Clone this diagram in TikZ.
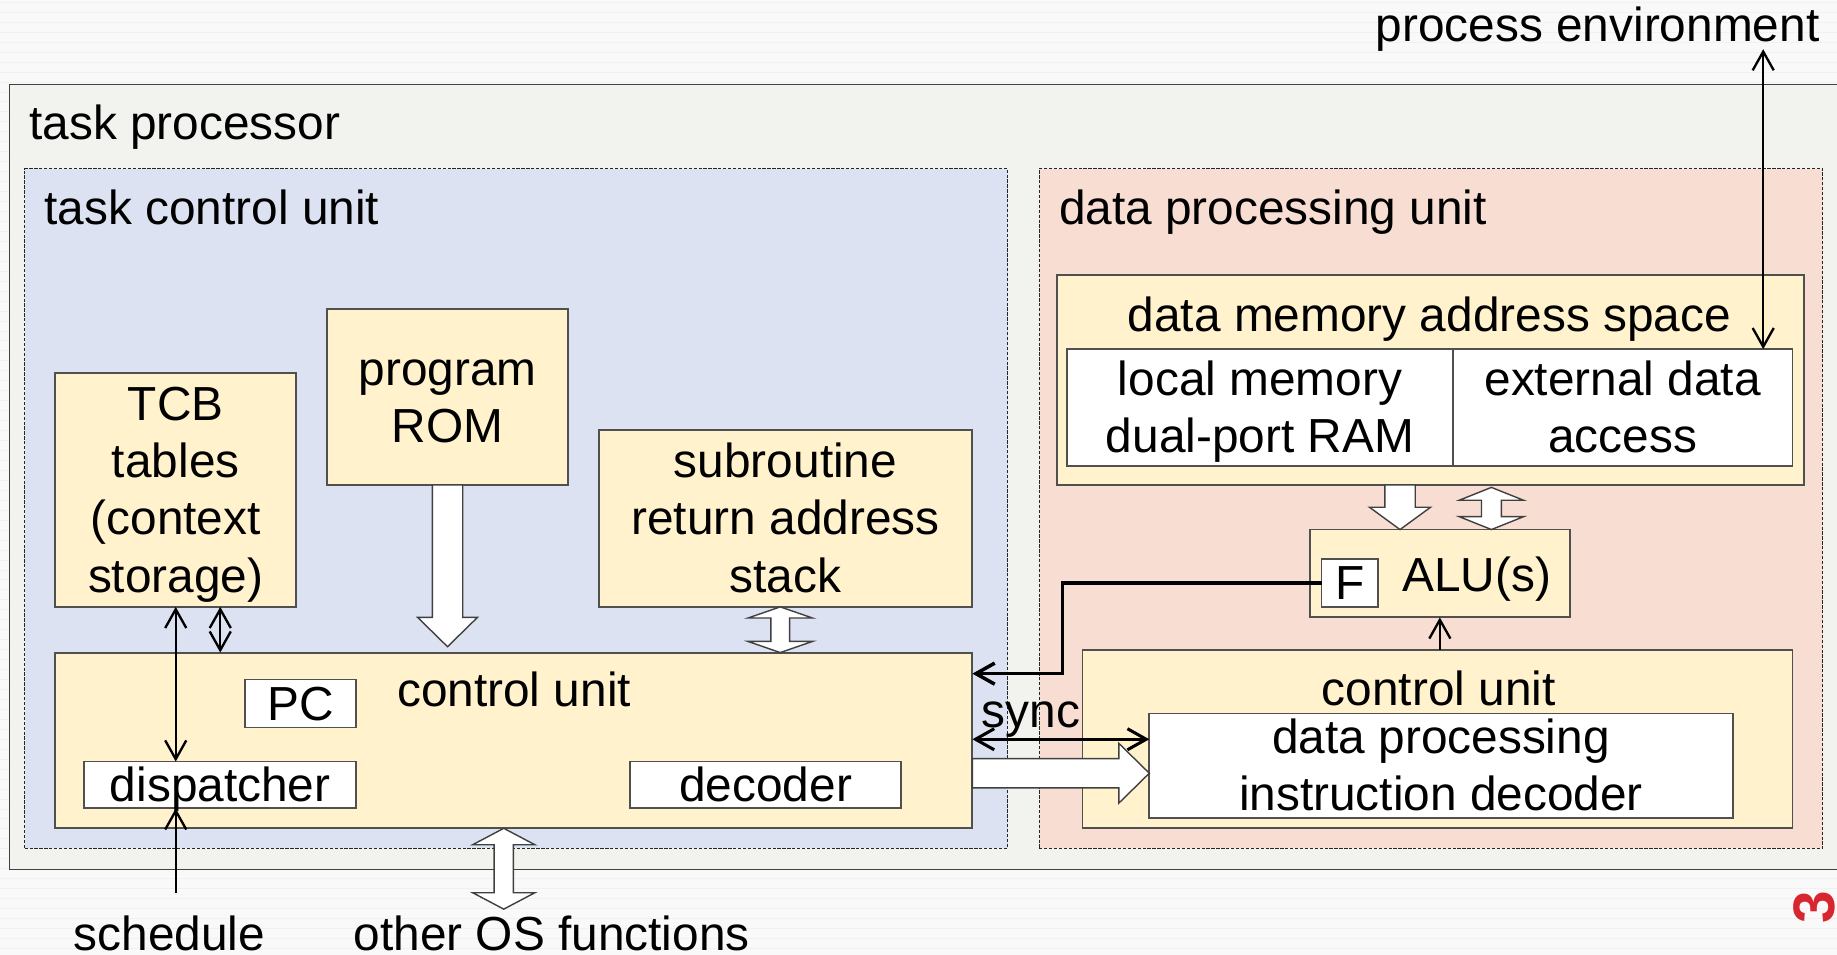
\documentclass[tikz,border=0pt]{standalone}
\usepackage{fontspec}
\setmainfont{Liberation Sans}
\usetikzlibrary{arrows.meta,fit,calc}

\definecolor{pagebg}{HTML}{F9F9F9}
\definecolor{stripe}{HTML}{F1F1F1}
\definecolor{procfill}{HTML}{F2F3EE}
\definecolor{tcufill}{HTML}{DCE2F1}
\definecolor{dpufill}{HTML}{F8DDD3}
\definecolor{unitfill}{HTML}{FFF2CC}
\definecolor{edge}{HTML}{505050}
\definecolor{pagered}{HTML}{D7262F}

% slide text: 20.4pt with a fixed line pitch
\newcommand\pptfont{\fontsize{20.4pt}{24.5pt}\selectfont}
% invisible strut with the font's ascent and descent
\newcommand\lineprop{\rule[-0.212em]{0pt}{1.117em}}

% hollow block arrows, drawn between two points
\newcommand\vsingle[5]{% #1 start, #2 tip below, #3 shaft half width, #4 head half width, #5 head length
  \path[hollow] let \p1=#1, \p2=#2 in
    (\x1-#3,\y1) -- (\x1+#3,\y1) -- (\x1+#3,\y2+#5) -- (\x1+#4,\y2+#5) -- (\x1,\y2)
    -- (\x1-#4,\y2+#5) -- (\x1-#3,\y2+#5) -- cycle;}
\newcommand\vdouble[5]{% #1 upper tip, #2 lower tip
  \path[hollow] let \p1=#1, \p2=#2 in
    (\x1,\y1) -- (\x1+#4,\y1-#5) -- (\x1+#3,\y1-#5) -- (\x1+#3,\y2+#5) -- (\x1+#4,\y2+#5)
    -- (\x1,\y2) -- (\x1-#4,\y2+#5) -- (\x1-#3,\y2+#5) -- (\x1-#3,\y1-#5) -- (\x1-#4,\y1-#5) -- cycle;}
\newcommand\hsingle[5]{% #1 start, #2 tip to the right
  \path[hollow] let \p1=#1, \p2=#2 in
    (\x1,\y1+#3) -- (\x2-#5,\y1+#3) -- (\x2-#5,\y1+#4) -- (\x2,\y1) -- (\x2-#5,\y1-#4)
    -- (\x2-#5,\y1-#3) -- (\x1,\y1-#3) -- cycle;}

\tikzset{
  barb/.tip={Straight Barb[length=8pt,width=9pt]},
  region/.style={draw=black!85, line width=0.45pt, dash pattern=on 1.4pt off 0.7pt},
  unit/.style={draw=edge, line width=0.8pt, fill=unitfill},
  cell/.style={draw=edge, line width=0.8pt, fill=white},
  lines/.style={align=center},
  oneline/.style={text height=15pt, text depth=0.9pt},
  link/.style={draw=black, line width=1pt, arrows={barb-barb}},
  single/.style={draw=black, line width=1pt, arrows={-barb}},
  hollow/.style={draw=black!75, line width=0.6pt, fill=white, line join=miter},
}

\begin{document}
\begin{tikzpicture}[x=0.5pt, y=-0.5pt,
  every node/.style={inner sep=0pt, outer sep=0pt, font=\pptfont}]
\useasboundingbox (0,0) rectangle (1568,815);
\clip (0,0) rectangle (1568,815);

% slide background
\fill[pagebg] (0,0) rectangle (1568,815);
\foreach \yy in {2,10.5,...,815} \draw[stripe, line width=0.4pt] (0,\yy) -- (1568,\yy);

% task processor frame
\node[fit={(8,72) (1590,742)}, draw=black!75, line width=0.65pt, fill=procfill] (proc) {};
\node[anchor=base west] (procT) at (25,119) {task processor};

% the two units
\node[region, fill=tcufill, fit={(21,144) (860,724)}] (tcu) {};
\node[anchor=base west] (tcuT) at (38,192) {task control unit};
\node[region, fill=dpufill, fit={(887,144) (1556,724)}] (dpu) {};
\node[anchor=base west] (dpuT) at (904,192) {data processing unit};

% task control unit contents
\node[unit, fit={(47,318) (253,518)}] (tcb) {};
\node[lines] (tcbT) at (tcb.center) {\lineprop TCB\\tables\\(context\\storage)\lineprop};
\node[unit, fit={(279,264) (485,414)}] (rom) {};
\node[lines] (romT) at (rom.center) {\lineprop program\\ROM\lineprop};
\node[unit, fit={(511,367) (830,518)}] (sub) {};
\node[lines] (subT) at (sub.center) {\lineprop subroutine\\return address\\stack\lineprop};
\node[unit, fit={(47,557) (830,707)}] (cuL) {};
\node[anchor=base west] (cuLT) at (339,603) {control unit};
\node[cell, fit={(209,580) (304,621)}] (pc) {};
\node[oneline] (pcT) at (pc.center) {PC};
\node[cell, fit={(72,650) (304,690)}] (disp) {};
\node[oneline] (dispT) at (disp.center) {dispatcher};
\node[cell, fit={(538,650) (769,690)}] (dec) {};
\node[oneline] (decT) at (dec.center) {decoder};

% data processing unit contents
\node[unit, fit={(902,235) (1540,414)}] (dmas) {};
\node[anchor=base] (dmasT) at (1220,283) {data memory address space};
\node[cell, fit={(911,298) (1240,398)}] (local) {};
\node[lines] (localT) at (local.center) {\lineprop local memory\\dual-port RAM\lineprop};
\node[cell, fit={(1240,298) (1530,398)}] (ext) {};
\node[lines] (extT) at (ext.center) {\lineprop external data\\access\lineprop};
\node[unit, fit={(1118,452) (1340,527)}] (alu) {};
\node[cell, fit={(1128,477) (1176,518)}] (flag) {};
\node[oneline] (flagT) at (flag.center) {F};
\node[anchor=base west] (aluT) at (1197,505) {ALU(s)};
\node[unit, fit={(924,555) (1530,707)}] (cuR) {};
\node[anchor=base] (cuRT) at (1228,602) {control unit};
\node[cell, fit={(981,609) (1479,698)}] (ipd) {};
\node[lines] (ipdT) at (ipd.center) {\lineprop data processing\\instruction decoder\lineprop};

% outside labels
\node[anchor=base east] (envT) at (1553,35) {process environment};
\node[anchor=base west] (schedT) at (63,811) {schedule};
\node[anchor=base west] (osT) at (302,811) {other OS functions};
\node[anchor=base west] (syncT) at (838,621) {sync};
\node[rotate=90, font=\fontsize{25pt}{25pt}\selectfont\bfseries, text=pagered] (pgno) at (1549,774) {3};

% free ends and bend points
\coordinate (tcbSide) at ([xshift=19pt]tcb.south);
\coordinate (schedIn) at (150,762);
\coordinate (envIn) at (1505,42);
\coordinate (syncY) at (900,631);
\coordinate (fRet) at (907,575);
\coordinate (romTip) at (382,552);
\coordinate (subLink) at (666,518);
\coordinate (osOut) at (430,776);
\coordinate (memIn) at (1195,452);
\coordinate (memLink) at (1273,416);
\coordinate (decTip) at (981,660);

% block arrows
\vsingle{(rom.south)}{(romTip)}{6.5pt}{12.75pt}{12.5pt}
\vdouble{(subLink)}{(subLink |- cuL.north)}{4pt}{13.75pt}{4.75pt}
\vdouble{(osOut |- cuL.south)}{(osOut)}{4.1pt}{13.25pt}{7pt}
\vsingle{(memIn |- dmas.south)}{(memIn |- alu.north)}{6.5pt}{13pt}{9.5pt}
\vdouble{(memLink)}{(memLink |- alu.north)}{4.25pt}{13.75pt}{5.5pt}
\hsingle{(cuL.east |- decTip)}{(decTip)}{6.25pt}{12.75pt}{13pt}

% line connectors
\draw[link] (tcb.south) -- (tcb.south |- disp.north);
\draw[link] (tcbSide) -- (tcbSide |- cuL.north);
\draw[single] (schedIn) -- (schedIn |- disp.south);
\draw[link] (envIn) -- (envIn |- ext.north);
\draw[link, line width=1.3pt] (cuL.east |- syncY) -- (ipd.west |- syncY);
\draw[single, line width=1.5pt] (flag.west) -| (fRet) -- (fRet -| cuL.east);
\draw[single] (alu.south |- cuR.north) -- (alu.south);
\end{tikzpicture}
\end{document}
